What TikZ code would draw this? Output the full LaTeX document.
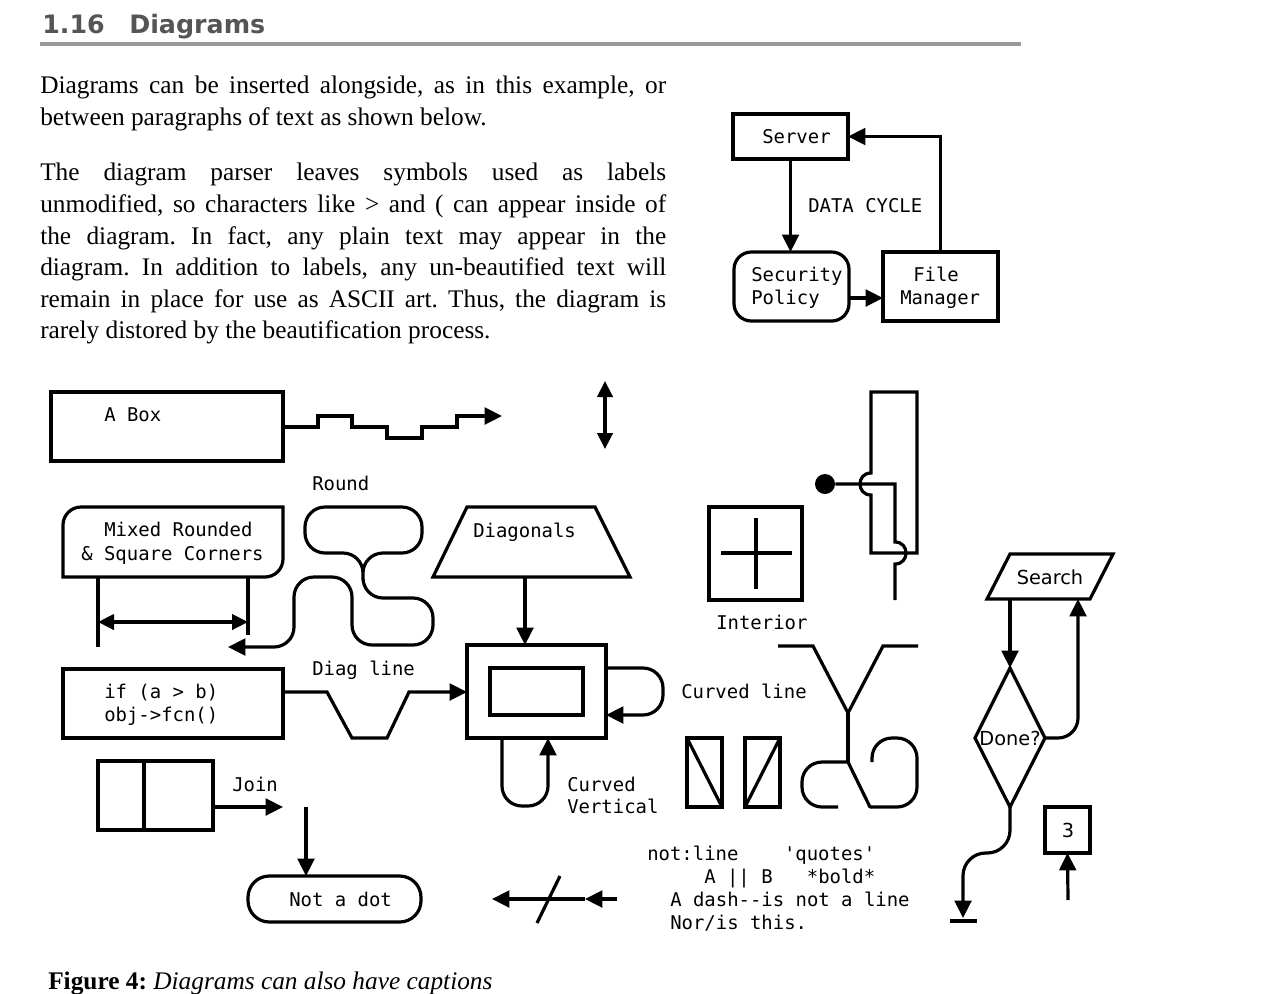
\documentclass[tikz,border=0pt]{standalone}
\usepackage{fontspec}
\setmainfont{Liberation Serif}
\setsansfont{DejaVu Sans}
\setmonofont{DejaVu Sans Mono}
\usetikzlibrary{arrows.meta,fit}
\definecolor{headgray}{HTML}{555555}
\definecolor{rulegray}{HTML}{999999}
\frenchspacing
\begin{document}
\begin{tikzpicture}[x=0.75pt,y=-0.75pt,
  ln/.style={line width=2.4pt},
  box/.style={draw,line width=2.4pt,inner sep=0pt,outer sep=0pt},
  rbox/.style={box,rounded corners=13pt},
  arr/.style={ln,-{Triangle[length=13pt,width=12.5pt]}},
  dar/.style={ln,{Triangle[length=12pt,width=11.5pt]}-{Triangle[length=12pt,width=11.5pt]}},
  rc/.style={rounded corners=15pt},
  mono/.style={font=\ttfamily\fontsize{14.2}{17}\selectfont,anchor=base west,inner sep=0pt},
  sans/.style={font=\sffamily\fontsize{14.5}{17}\selectfont,inner sep=0pt},
  body/.style={font=\fontsize{19}{24}\selectfont,anchor=base west,inner sep=0pt},
  head/.style={anchor=base west,inner sep=0pt,text=headgray,font=\sffamily\bfseries\fontsize{19}{22}\selectfont}]
\useasboundingbox[fill=white] (0,0) rectangle (1280,993);

% ---------- heading and text ----------
\node[head] (hnum) at (42,33) {1.16};
\node[head] (htitle) at (129,33) {Diagrams};
\draw[rulegray,line width=2.4pt] (40,44) -- (1021,44);

\node[body] (p1) at (40,93) {\makebox[469.5pt][s]{Diagrams can be inserted alongside, as in this example, or}};
\node[body] (p2) at (40,125) {between paragraphs of text as shown below.};
\node[body] (p3) at (40,180) {\makebox[469.5pt][s]{The diagram parser leaves symbols used as labels}};
\node[body] (p4) at (40,212) {\makebox[469.5pt][s]{unmodified, so characters like > and ( can appear inside of}};
\node[body] (p5) at (40,244) {\makebox[469.5pt][s]{the diagram. In fact, any plain text may appear in the}};
\node[body] (p6) at (40,275) {\makebox[469.5pt][s]{diagram. In addition to labels, any un-beautified text will}};
\node[body] (p7) at (40,307) {\makebox[469.5pt][s]{remain in place for use as ASCII art. Thus, the diagram is}};
\node[body] (p8) at (40,338) {rarely distored by the beautification process.};

\node[body] (cap) at (48,989) {\textbf{Figure 4:} \textit{Diagrams can also have captions}};

% ---------- top-right diagram ----------
\coordinate (s1) at (733,114); \coordinate (s2) at (848,159);
\node[box,fit=(s1)(s2)] (server) {};
\node[mono] (tserver) at (762,143) {Server};
\coordinate (sp1) at (734,252); \coordinate (sp2) at (849,321);
\node[rbox,fit=(sp1)(sp2)] (secpol) {};
\node[mono] (tsec1) at (751,281) {Security};
\node[mono] (tsec2) at (751,304) {Policy};
\coordinate (fm1) at (883,252); \coordinate (fm2) at (998,321);
\node[box,fit=(fm1)(fm2)] (filemgr) {};
\node[mono] (tfm1) at (913,281) {File};
\node[mono] (tfm2) at (900,304) {Manager};
\node[mono] (tdata) at (808,212) {DATA CYCLE};
\draw[arr] (server.south) -- (server.south |- secpol.north);
\coordinate (spa) at (849,298);
\draw[arr] (spa) -- (spa -| filemgr.west);
\draw[arr] (filemgr.north) -- (filemgr.north |- server.east) -- (server.east);

% ---------- A Box ----------
\coordinate (ab1) at (51,392); \coordinate (ab2) at (283,461);
\node[box,fit=(ab1)(ab2)] (abox) {};
\node[mono] (tabox) at (104,421) {A Box};
\coordinate (st0) at (283,427); \coordinate (st1) at (502,416);
\draw[arr] (st0) -- (318,427) -- (318,416) -- (352,416) -- (352,427) -- (387,427) -- (387,438) -- (422,438) -- (422,427) -- (457,427) -- (457,416) -- (st1);
\coordinate (va1) at (605,381); \coordinate (va2) at (605,449);
\draw[dar] (va1) -- (va2);

% ---------- Mixed corners ----------
\draw[ln] (63,577) -- (63,525) .. controls (63,515.1) and (71.1,507) .. (81,507) -- (283,507) -- (283,559) .. controls (283,568.9) and (274.9,577) .. (265,577) -- cycle;
\node[mono] (tmix1) at (104,536) {Mixed Rounded};
\node[mono] (tmix2) at (81,560) {\& Square Corners};
\coordinate (mx1) at (98,577); \coordinate (mx2) at (98,647);
\coordinate (mx3) at (248,577); \coordinate (mx4) at (248,635);
\draw[ln] (mx1) -- (mx2);
\draw[ln] (mx3) -- (mx4);
\coordinate (ha1) at (98,622); \coordinate (ha2) at (248,622);
\draw[dar] (ha1) -- (ha2);

% ---------- Round ----------
\node[mono] (tround) at (312,490) {Round};
\coordinate (rd0) at (363,580); \coordinate (rd1) at (228,647);
\draw[arr,rc] (rd0) -- (363,553) -- (305,553) -- (305,507) -- (422,507) -- (422,553) -- (363,553) -- (363,598) -- (433,598) -- (433,645) -- (352,645) -- (352,577) -- (294,577) -- (294,647) -- (rd1);

% ---------- Diagonals / double box ----------
\draw[ln] (433,577) -- (467,507) -- (595,507) -- (630,577) -- cycle;
\node[mono] (tdiag) at (473,537) {Diagonals};
\coordinate (trapB) at (525,577);
\coordinate (ob1) at (467,645); \coordinate (ob2) at (606,738);
\node[box,fit=(ob1)(ob2)] (outer) {};
\coordinate (ib1) at (490,668); \coordinate (ib2) at (583,715);
\node[box,fit=(ib1)(ib2)] (inner) {};
\draw[arr] (trapB) -- (trapB |- outer.north);
\coordinate (lp0) at (606,668); \coordinate (lp1) at (606,715);
\draw[arr,rc] (lp0) -- (663,668) -- (663,715) -- (lp1);
\coordinate (cv0) at (502,738); \coordinate (cv1) at (548,738);
\draw[arr,rc] (cv0) -- (502,806) -- (548,806) -- (cv1);
\node[mono] (tcv1) at (567,791) {Curved};
\node[mono] (tcv2) at (567,813) {Vertical};

% ---------- if box ----------
\coordinate (if1) at (63,669); \coordinate (if2) at (283,738);
\node[box,fit=(if1)(if2)] (ifbox) {};
\node[mono] (tif1) at (104,698) {if (a > b)};
\node[mono] (tif2) at (104,721) {obj->fcn()};
\node[mono] (tdl) at (312,675) {Diag line};
\coordinate (dl0) at (283,692);
\draw[arr] (dl0) -- (327,692) -- (352,738) -- (387,738) -- (409,692) -- (dl0 -| outer.west);

% ---------- Join ----------
\coordinate (jb1) at (98,761); \coordinate (jb2) at (213,830);
\node[box,fit=(jb1)(jb2)] (joinbox) {};
\draw[ln] (144,761) -- (144,830);
\node[mono] (tjoin) at (232,791) {Join};
\coordinate (jn0) at (213,807); \coordinate (jn1) at (283,807);
\draw[arr] (jn0) -- (jn1);
\coordinate (nd1) at (248,876); \coordinate (nd2) at (421,922);
\node[box,rounded corners=16pt,fit=(nd1)(nd2)] (notdot) {};
\node[mono] (tnd) at (289,906) {Not a dot};
\coordinate (vd0) at (306,807);
\draw[arr] (vd0) -- (vd0 |- notdot.north);

% ---------- slashed arrow ----------
\coordinate (sa0) at (617,899); \coordinate (sa1) at (585,899); \coordinate (sa2) at (492,899);
\draw[arr] (sa0) -- (sa1);
\draw[arr] (sa1) -- (sa2);
\draw[ln] (537,923) -- (560,876);

% ---------- Interior ----------
\coordinate (in1) at (709,507); \coordinate (in2) at (802,600);
\node[box,fit=(in1)(in2)] (intbox) {};
\draw[ln] (721,553) -- (792,553);
\draw[ln] (756,518) -- (756,589);
\node[mono] (tint) at (716,629) {Interior};

% ---------- hops ----------
\draw[ln] (871,473) .. controls (856.3,473) and (856.3,495) .. (871,495) -- (871,553) -- (917,553) -- (917,392) -- (871,392) -- cycle;
\node[circle,fill,minimum size=15pt,inner sep=0pt] (dot) at (825,484) {};
\coordinate (hp1) at (895,600);
\draw[ln] (dot) -- (895,484) -- (895,542) .. controls (909.7,542) and (909.7,564) .. (895,564) -- (hp1);

% ---------- Curved line ----------
\node[mono] (tcl) at (681,698) {Curved line};
\draw[ln] (778,646) -- (813,646) -- (848,713) -- (883,646) -- (918,646);
\draw[ln] (848,713) -- (848,762);
\draw[ln,rc] (848,762) -- (802,762) -- (802,807) -- (838,807);
\draw[ln,line cap=round] (848,762) -- (870,807);
\draw[ln,rc] (870,807) -- (917,807) -- (917,738) -- (872,738) -- (872,762);

\coordinate (b1a) at (687,738); \coordinate (b1b) at (722,807);
\node[box,fit=(b1a)(b1b)] (dbox1) {};
\draw[ln] (dbox1.north west) -- (dbox1.south east);
\coordinate (b2a) at (745,738); \coordinate (b2b) at (780,807);
\node[box,fit=(b2a)(b2b)] (dbox2) {};
\draw[ln] (dbox2.south west) -- (dbox2.north east);

% ---------- ascii text ----------
\node[mono] (tx1) at (647,860) {not:line~~~~'quotes'};
\node[mono] (tx2) at (704,883) {A || B~~~*bold*};
\node[mono] (tx3) at (670,906) {A dash--is not a line};
\node[mono] (tx4) at (670,929) {Nor/is this.};

% ---------- flowchart ----------
\draw[ln] (987,599) -- (1010,554) -- (1113,554) -- (1090,599) -- cycle;
\node[sans] (tsearch) at (1050,577) {Search};
\coordinate (srB) at (1010,599); \coordinate (srR) at (1078,599);
\draw[ln] (1010,668) -- (1045,738) -- (1010,807) -- (975,738) -- cycle;
\node[sans] (tdone) at (1010,738) {Done?};
\coordinate (dmT) at (1010,668); \coordinate (dmR) at (1045,738); \coordinate (dmB) at (1010,807);
\draw[arr] (srB) -- (dmT);
\draw[arr,rc] (dmR) -- (1078,738) -- (srR);
\coordinate (gnd) at (963,918);
\draw[arr,rounded corners=17pt] (dmB) -- (1010,853) -- (963,853) -- (gnd);
\draw[ln] (950,921) -- (977,921);
\coordinate (t1) at (1045,807); \coordinate (t2) at (1090,853);
\node[box,fit=(t1)(t2)] (box3) {};
\node[sans] (t3) at (1068,830) {3};
\coordinate (a3) at (1068,900);
\draw[arr] (a3) -- (box3.south);
\end{tikzpicture}
\end{document}
